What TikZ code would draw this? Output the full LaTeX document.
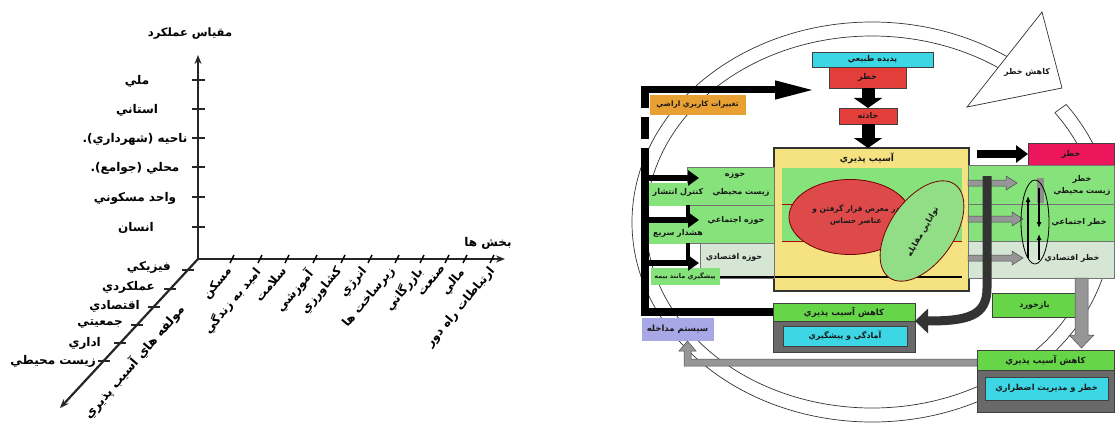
\documentclass[tikz,border=0pt]{standalone}
\usepackage{fontspec}
\newfontfamily\fa[Script=Arabic]{DejaVu Sans}
\TeXXeTstate=1
\usetikzlibrary{arrows.meta}
\newcommand\rtlt[1]{\beginR #1\endR}
\definecolor{cyb}{RGB}{60,214,228}
\definecolor{rdb}{RGB}{228,62,58}
\definecolor{pkb}{RGB}{236,22,92}
\definecolor{ylb}{RGB}{245,226,128}
\definecolor{gnb}{RGB}{134,226,122}
\definecolor{gnd}{RGB}{102,214,72}
\definecolor{lgb}{RGB}{214,230,212}
\definecolor{orb}{RGB}{232,160,50}
\definecolor{lvb}{RGB}{168,168,230}
\definecolor{dgb}{RGB}{105,105,105}
\definecolor{rel}{RGB}{222,74,74}
\definecolor{gel}{RGB}{146,222,134}
\definecolor{grarr}{RGB}{150,150,150}
\begin{document}
\begin{tikzpicture}[x=1pt,y=-1pt,
  axis/.style={line width=2.2pt, draw=black!85},
  tk/.style={line width=2pt, draw=black!85},
  lab/.style={font=\fa\bfseries\fontsize{12}{14}\selectfont, inner sep=0pt},
  tx/.style={font=\fa\bfseries\fontsize{8}{10}\selectfont, inner sep=0pt, text=black!90},
  box/.style={draw=black!75, line width=0.8pt, inner sep=0pt, outer sep=0pt},
  gbox/.style={draw=black!55, line width=0.6pt, inner sep=0pt, outer sep=0pt},
  ring/.style={draw=black!80, line width=0.7pt},
  garr/.style={fill=grarr, draw=black!70, line width=0.5pt},
]
\useasboundingbox (0,0) rectangle (1115,425);

% ================= LEFT DIAGRAM =================
\coordinate (O) at (198,259);
\coordinate (vt) at (198,55);
\coordinate (ht) at (505,259);
\coordinate (dt) at (60,408);
\draw[axis,-{Stealth[length=9pt,width=7pt]}] (O) -- (vt);
\draw[axis,-{Stealth[length=9pt,width=7pt]}] (O) -- (ht);
\draw[axis,-{Stealth[length=9pt,width=7pt]}] (O) -- (dt);
\foreach \y in {80,109,138,167,197,227} \draw[tk] (192,\y) -- (205,\y);
\foreach \x in {232,260,287,315,343,370,397,422,447,465,492} \draw[line width=1.5pt] (\x-2,263) -- (\x+2,255);
\foreach \x/\y in {188/270,170/289,154/307,137/325,120/343,104/361} \draw[tk] (\x-6,\y) -- (\x+6,\y);

\node[lab, font=\fa\bfseries\fontsize{11.5}{14}\selectfont] (vtitle) at (190,34) {\rtlt{مقياس عملکرد}};
\node[lab] (v1) at (137,81) {\rtlt{ملي}};
\node[lab] (v2) at (137,110) {\rtlt{استاني}};
\node[lab] (v3) at (135,139) {\rtlt{ناحيه (شهرداري).}};
\node[lab] (v4) at (135,168) {\rtlt{محلي (جوامع).}};
\node[lab] (v5) at (135,198) {\rtlt{واحد مسکوني}};
\node[lab] (v6) at (136,228) {\rtlt{انسان}};

\node[lab] (htitle) at (488,243) {\rtlt{بخش ها}};
\node[lab, rotate=50, anchor=north east] (h1) at (225,265) {\rtlt{مسکن}};
\node[lab, rotate=50, anchor=north east] (h2) at (253,265) {\rtlt{اميد به زندگي}};
\node[lab, rotate=50, anchor=north east] (h3) at (280,265) {\rtlt{سلامت}};
\node[lab, rotate=50, anchor=north east] (h4) at (305,267) {\rtlt{آموزشي}};
\node[lab, rotate=50, anchor=north east] (h5) at (335,265) {\rtlt{کشاورزي}};
\node[lab, rotate=50, anchor=north east] (h6) at (360,265) {\rtlt{انرژي}};
\node[lab, rotate=50, anchor=north east] (h7) at (388,265) {\rtlt{زيرساخت ها}};
\node[lab, rotate=50, anchor=north east] (h8) at (415,265) {\rtlt{بازرگاني}};
\node[lab, rotate=50, anchor=north east] (h9) at (441,265) {\rtlt{صنعت}};
\node[lab, rotate=50, anchor=north east] (h10) at (458,267) {\rtlt{مالي}};
\node[lab, rotate=50, anchor=north east] (h11) at (488,265) {\rtlt{ارتباطات راه دور}};

\node[lab, anchor=east] (d1) at (171,267) {\rtlt{فيزيکي}};
\node[lab, anchor=east] (d2) at (155,287) {\rtlt{عملکردي}};
\node[lab, anchor=east] (d3) at (140,306) {\rtlt{اقتصادي}};
\node[lab, anchor=east] (d4) at (123,324) {\rtlt{جمعيتي}};
\node[lab, anchor=east] (d5) at (101,343) {\rtlt{اداري}};
\node[lab, anchor=east] (d6) at (96,361) {\rtlt{زيست محيطي}};
\node[lab, rotate=49, font=\fa\bfseries\fontsize{12.5}{14}\selectfont] (dtitle) at (134,362) {\rtlt{مولفه هاي آسيب پذيري}};

% ================= RIGHT DIAGRAM =================
\coordinate (C) at (872,222);
\draw[ring] (C) ++(36:240pt and 200pt) arc[start angle=36,end angle=-305,x radius=240pt,y radius=200pt];
\draw[ring] (C) ++(36:226pt and 186pt) arc[start angle=36,end angle=-305,x radius=226pt,y radius=186pt];
\path (C) ++(36:240pt and 200pt) coordinate (ra) (C) ++(36:226pt and 186pt) coordinate (rb);
\draw[ring] (ra) -- (rb);
\draw[ring, fill=white] (1042,12) -- (1062,88) -- (967,107) -- cycle;
\node[tx] (kx) at (1027,72) {\rtlt{کاهش خطر}};

% top chain
\node[box, fill=cyb, minimum width=121pt, minimum height=15pt, tx] (pd) at (872.5,59.5) {\rtlt{پديده طبيعي}};
\node[box, fill=rdb, minimum width=77pt, minimum height=21pt, tx] (kh) at (867.5,77.5) {\rtlt{خطر}};
\node[box, fill=rdb, minimum width=58pt, minimum height=16pt, tx] (hd) at (868,116) {\rtlt{حادثه}};
\draw[line width=13pt, black, -{Triangle[width=28pt,length=10pt]}] (kh.south -| hd.north) -- (hd.north);

% yellow vulnerability box
\node[box, fill=ylb, line width=1.5pt, draw=black!80, minimum width=195pt, minimum height=143pt] (yb) at (871.5,219.5) {};
\draw[line width=13pt, black, -{Triangle[width=28pt,length=10pt]}] (hd.south) -- (hd.south |- yb.north);
\fill[gnb] (782,168) rectangle (962,241);
\draw[red!75!black, line width=0.8pt] (782,204) -- (962,204) (782,241) -- (962,241);
\draw[line width=2pt] (720,277) -- (962,277);
\node[tx, font=\fa\bfseries\fontsize{9}{11}\selectfont] (ab) at (867,158) {\rtlt{آسيب پذيري}};
\draw[fill=rel, draw=red!45!black, line width=0.8pt] (850,217) ellipse [x radius=61pt, y radius=37.5pt];
\node[tx, align=center, font=\fa\bfseries\fontsize{7.5}{9}\selectfont] (ex) at (856,215) {\rtlt{در معرض قرار گرفتن و}\\[3pt]\rtlt{عناصر حساس}};
\draw[fill=gel, draw=red!45!black, line width=0.8pt, rotate around={55:(922,231)}] (922,231) ellipse [x radius=57pt, y radius=32pt];
\node[tx, rotate=60] (tm) at (923,232) {\rtlt{توانايي مقابله}};

% pink risk box and right rows
\node[box, fill=pkb, minimum width=86pt, minimum height=22pt, tx] (pk) at (1071,154) {\rtlt{خطر}};
\draw[line width=8pt, -{Triangle[width=17pt,length=12pt]}] (977,154) -- (pk.west);
\node[gbox, fill=gnb, minimum width=146pt, minimum height=39pt] (r1) at (1041,184.5) {};
\node[gbox, fill=gnb, minimum width=146pt, minimum height=37pt] (r2) at (1041,222.5) {};
\node[gbox, fill=lgb, minimum width=146pt, minimum height=37pt] (r3) at (1041,259.5) {};
\node[tx, align=center] (r1t) at (1082,185) {\rtlt{خطر}\\[2pt]\rtlt{زيست محيطي}};
\node[tx] (r2t) at (1079,222) {\rtlt{خطر اجتماعي}};
\node[tx] (r3t) at (1072,258) {\rtlt{خطر اقتصادي}};
\filldraw[garr] (968,180) -- (1006,180) -- (1006,176) -- (1017,183) -- (1006,190) -- (1006,186) -- (968,186) -- cycle;
\filldraw[garr] (968,216) -- (1012,216) -- (1012,212) -- (1023,219) -- (1012,226) -- (1012,222) -- (968,222) -- cycle;
\filldraw[garr] (968,255) -- (1012,255) -- (1012,251) -- (1023,258) -- (1012,265) -- (1012,261) -- (968,261) -- cycle;
\fill[black!45] (1037,178) rectangle (1044,203);
\draw[line width=0.8pt] (1035,222) ellipse [x radius=14pt, y radius=42pt];
\draw[line width=1.3pt, -{Latex[length=6pt,width=5pt]}] (1028,258) -- (1028,196);
\draw[line width=1.3pt, -{Latex[length=6pt,width=5pt]}] (1039,188) -- (1039,228);
\draw[line width=1.3pt, -{Latex[length=6pt,width=5pt]}] (1039,260) -- (1039,234);

% middle reduction box
\node[box, fill=gnd, minimum width=142pt, minimum height=18pt, tx, font=\fa\bfseries\fontsize{8.5}{10}\selectfont] (kv) at (844,312) {\rtlt{کاهش آسيب پذيري}};
\node[box, fill=dgb, minimum width=142pt, minimum height=31pt] (kvg) at (844,336.5) {};
\node[box, fill=cyb, minimum width=124pt, minimum height=20pt, tx] (ap) at (845,336) {\rtlt{آمادگي و پيشگيري}};
\draw[line width=9pt, draw=black!80, -{Triangle[width=24pt,length=13pt]}] (987,176) -- (987,288) .. controls (987,316) and (968,321) .. (kvg.north east);

% feedback box and gray arrow down
\node[box, fill=gnd, minimum width=85pt, minimum height=24pt, tx] (bz) at (1034.5,305) {\rtlt{بازخورد}};
\filldraw[garr] (1075,278) -- (1088,278) -- (1088,335) -- (1094,335) -- (1081.5,348) -- (1069,335) -- (1075,335) -- cycle;

% bottom right box
\node[box, fill=gnd, minimum width=137pt, minimum height=20pt, tx, font=\fa\bfseries\fontsize{8.5}{10}\selectfont] (kb) at (1045.5,360) {\rtlt{کاهش آسيب پذيري}};
\node[box, fill=dgb, minimum width=137pt, minimum height=42pt] (kbg) at (1045.5,391) {};
\node[box, fill=cyb, minimum width=123pt, minimum height=23pt, tx, font=\fa\bfseries\fontsize{8.3}{10}\selectfont] (km) at (1046.5,388.5) {\rtlt{خطر و مديريت اضطراري}};

% intervention system
\node[box, fill=lvb, draw=lvb, minimum width=71pt, minimum height=22pt, tx, font=\fa\bfseries\fontsize{8.5}{10}\selectfont] (sys) at (677.5,329) {\rtlt{سيستم مداخله}};
\filldraw[garr] (977,359) -- (691,359) -- (691,351) -- (696,351) -- (687.5,341) -- (679,351) -- (684,351) -- (684,366) -- (977,366) -- cycle;

% land use change
\node[box, fill=orb, draw=orb, minimum width=95pt, minimum height=19pt, tx, font=\fa\bfseries\fontsize{7.4}{9}\selectfont] (tg) at (697.5,104.5) {\rtlt{تغييرات کاربري اراضي}};

% left domains
\node[gbox, fill=gnb, minimum width=87pt, minimum height=38pt] (g1) at (730.5,186) {};
\node[gbox, fill=gnb, draw=gnb, minimum width=40pt, minimum height=22pt] (g1l) at (667,194) {};
\node[gbox, fill=gnb, minimum width=87pt, minimum height=38pt] (g2) at (730.5,224) {};
\node[gbox, fill=gnb, draw=gnb, minimum width=40pt, minimum height=25pt] (g2l) at (667,230.5) {};
\node[gbox, fill=lgb, minimum width=74pt, minimum height=35pt] (g3) at (737,260.5) {};
\node[gbox, fill=gnb, draw=gnb, minimum width=68pt, minimum height=16pt] (g3l) at (685,276) {};
\draw[line width=2pt] (720,277) -- (774,277);
\node[tx] (g1a) at (735,176) {\rtlt{حوزه}};
\node[tx] (g1b) at (741,192) {\rtlt{زيست محيطي}};
\node[tx] (g1c) at (678,192) {\rtlt{کنترل انتشار}};
\node[tx] (g2a) at (736,220) {\rtlt{حوزه اجتماعي}};
\node[tx] (g2c) at (678,233) {\rtlt{هشدار سريع}};
\node[tx] (g3a) at (734,257) {\rtlt{حوزه اقتصادي}};
\node[tx, font=\fa\bfseries\fontsize{6.5}{8}\selectfont] (g3c) at (685,276) {\rtlt{پيشگيري مانند بيمه}};

% left black control line
\coordinate (lt) at (645,90);
\coordinate (lm) at (645,170);
\coordinate (lb) at (645,312);
\draw[line width=8pt, dash pattern=on 22pt off 9pt] (lm) -- (645,86);
\draw[line width=8pt, line join=miter] (lm) -- (lb) -- (lb -| kv.west);
\draw[line width=7pt, -{Triangle[width=17pt,length=40pt]}] (641,90) -- (815,90);
\draw[line width=6pt, -{Triangle[width=15pt,length=11pt]}] (649,178) -- (699,178);
\draw[line width=6pt, -{Triangle[width=15pt,length=11pt]}] (649,220) -- (699,220);
\draw[line width=6pt, -{Triangle[width=15pt,length=11pt]}] (649,263) -- (699,263);
\draw[line width=3.5pt] (688,205) -- (688,218) (688,243) -- (688,262);
\end{tikzpicture}
\end{document}
